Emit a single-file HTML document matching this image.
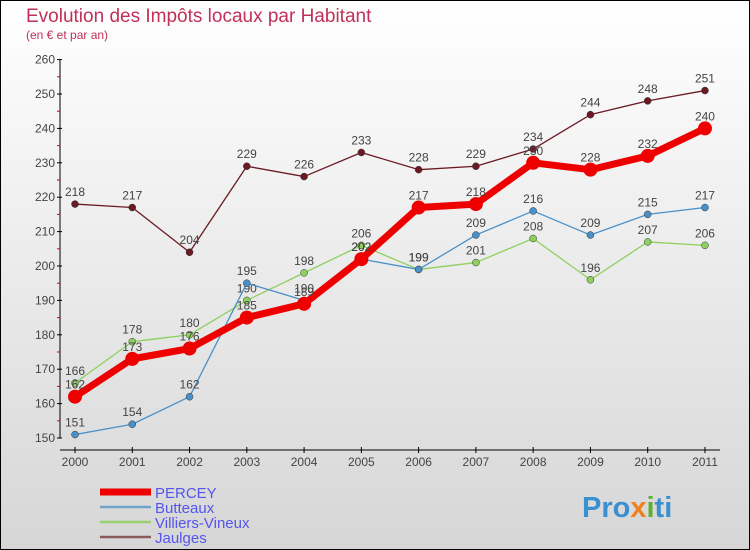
<!DOCTYPE html>
<html><head><meta charset="utf-8"><style>
body{margin:0;width:750px;height:550px;overflow:hidden}
svg{display:block;font-family:"Liberation Sans",sans-serif}
</style></head><body>
<svg id="c" width="750" height="550">
<defs><linearGradient id="bg" x1="0" y1="0" x2="0" y2="1"><stop offset="0" stop-color="#ffffff"/><stop offset="1" stop-color="#d6d6d6"/></linearGradient></defs>
<rect x="0.5" y="0.5" width="749" height="549" fill="url(#bg)" stroke="#000"/>
<text x="26" y="22" font-size="19" fill="#c0305a">Evolution des Impôts locaux par Habitant</text>
<text x="26" y="39" font-size="12" fill="#c0305a">(en € et par an)</text>
<g id="axes"></g><g id="series"></g><g id="legend"></g>
<text x="582" y="517" font-size="29" font-weight="bold" fill="#3a8fd0">Pro<tspan fill="#f08020">x</tspan><tspan fill="#60b030">i</tspan>ti</text>
</svg>
<script>
const years=["2000","2001","2002","2003","2004","2005","2006","2007","2008","2009","2010","2011"];
const yTicks=[150,160,170,180,190,200,210,220,230,240,250,260];
const percey=[162,173,176,185,189,202,217,218,230,228,232,240];
const butteaux=[151,154,162,195,190,202,199,209,216,209,215,217];
const villiers=[166,178,180,190,198,206,199,201,208,196,207,206];
const jaulges=[218,217,204,229,226,233,228,229,234,244,248,251];
const NS="http://www.w3.org/2000/svg";
function X(i){return 75+i*57.27;}
function Y(v){return 438-(v-150)*3.44;}
function mk(t,a,p){const e=document.createElementNS(NS,t);for(const k in a)e.setAttribute(k,a[k]);p.appendChild(e);return e;}
const ax=document.getElementById('axes');
const yl=mk('line',{x1:60,y1:Y(260),x2:60,y2:Y(150),stroke:'#000'},ax);


const xl=mk('line',{x1:60,y1:450,x2:720,y2:450,stroke:'#000'},ax);


yTicks.forEach(v=>{
  mk('line',{x1:57,y1:Y(v),x2:62,y2:Y(v),stroke:'#000'},ax);
  if(v<260)mk('line',{x1:57,y1:Y(v+5),x2:60,y2:Y(v+5),stroke:'#d00'},ax);
  const t=mk('text',{x:55,y:Y(v)+4,'font-size':12,fill:'#444','text-anchor':'end'},ax);t.textContent=v;
  
  
});
years.forEach((y,i)=>{
  mk('line',{x1:X(i),y1:447,x2:X(i),y2:453,stroke:'#000'},ax);
  const t=mk('text',{x:X(i),y:466,'font-size':12,fill:'#444','text-anchor':'middle'},ax);t.textContent=y;
  
  
});
const sg=document.getElementById('series');
const series=[
 {n:'jaulges',d:jaulges,c:'#6b1a24',w:1.3,r:3.5},
 {n:'villiers-vineux',d:villiers,c:'#8ed060',w:1.3,r:3.5},
 {n:'butteaux',d:butteaux,c:'#4a90c8',w:1.3,r:3.5},
 {n:'percey',d:percey,c:'#ee0000',w:7,r:7}];
series.forEach(s=>{
  const g=mk('g',{},sg);
  
  
  const pl=mk('polyline',{points:s.d.map((v,i)=>X(i)+','+Y(v)).join(' '),fill:'none',stroke:s.c,'stroke-width':s.w,'stroke-linejoin':'round'},g);
  
  
  s.d.forEach((v,i)=>{
    const c=mk('circle',{cx:X(i),cy:Y(v),r:s.r,fill:s.c,stroke:s.w>2?'none':'#333','stroke-width':0.5},g);
    
    
    const t=mk('text',{x:X(i),y:Y(v)-8,'font-size':12,fill:'#444','text-anchor':'middle'},g);t.textContent=v;
    
    
  });
});
const lg=document.getElementById('legend');
const leg=[['PERCEY','#ee0000',7],['Butteaux','#6fa3c8',2.5],['Villiers-Vineux','#9ad070',2.5],['Jaulges','#8a5a5a',2.5]];
leg.forEach((l,i)=>{
  const y=492+i*15;
  const g=mk('g',{},lg);
  
  
  mk('line',{x1:100,y1:y,x2:151,y2:y,stroke:l[1],'stroke-width':l[2]},g);
  const t=mk('text',{x:155,y:y+6,'font-size':15,fill:'#5555ee'},g);t.textContent=l[0];
});
</script>
</body></html>
